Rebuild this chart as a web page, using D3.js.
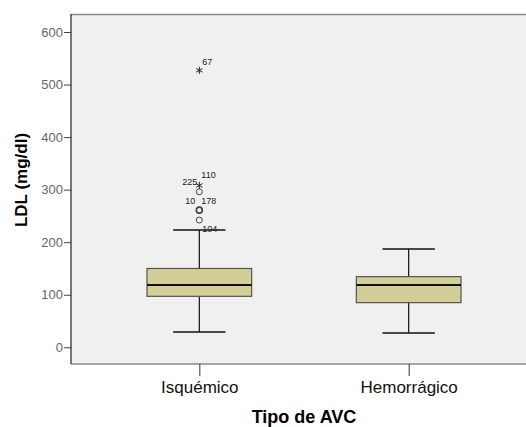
<!doctype html>
<html lang="en">
<head>
<meta charset="utf-8">
<title>LDL por tipo de AVC</title>
<style>
  body { margin: 0; background: #fff; }
  svg text { font-family: "Liberation Sans", Arial, sans-serif; }
</style>
<script src="https://d3js.org/d3.v7.min.js"></script>
</head>
<body>
<div id="chart"></div>
<script>
// categories and box statistics (mg/dl)
var categories = ["Isquémico", "Hemorrágico"];
var whiskerLow = [29, 27];
var q1 = [97, 85];
var median = [118.5, 118.5];
var q3 = [150, 134.5];
var whiskerHigh = [223, 187];

// outliers (Isquémico only): value, type, label
var outlierValues = [527, 308, 296, 261, 261, 242];
var outlierTypes = ["star", "star", "circle", "circle", "circle", "circle"];
var outlierLabels = [["67"], ["225", "110"], [], ["10", "178"], [], ["104"]];

var yTicks = [0, 100, 200, 300, 400, 500, 600];

var W = 526, H = 427;
var plotLeft = 71, plotTop = 14, plotBottom = 364, plotRight = 526;

var svg = d3.select("#chart").append("svg")
  .attr("width", W)
  .attr("height", H);

var y = d3.scaleLinear()
  .domain([0, 600])
  .range([347.3, 32]);

var x = d3.scalePoint()
  .domain(categories)
  .range([plotLeft, 537])
  .padding(0.613);

var step = x.step();
var boxW = step * 0.5;
var capW = boxW * 0.5;

// plot background
svg.append("rect")
  .attr("x", plotLeft)
  .attr("y", plotTop)
  .attr("width", plotRight - plotLeft)
  .attr("height", plotBottom - plotTop)
  .attr("fill", "#f0f0f0");

// top and bottom frame
svg.append("line")
  .attr("x1", plotLeft).attr("x2", plotRight)
  .attr("y1", plotTop + 0.5).attr("y2", plotTop + 0.5)
  .attr("stroke", "#8a8a8a").attr("stroke-width", 1.5);
svg.append("line")
  .attr("x1", plotLeft).attr("x2", plotRight)
  .attr("y1", plotBottom).attr("y2", plotBottom)
  .attr("stroke", "#8a8a8a").attr("stroke-width", 1.5);

// y axis
var yAxis = svg.append("g")
  .attr("transform", "translate(" + plotLeft + ",0)")
  .call(d3.axisLeft(y).tickValues(yTicks).tickSize(7).tickPadding(1));
yAxis.select(".domain").remove();
yAxis.append("line")
  .attr("x1", 0).attr("x2", 0)
  .attr("y1", plotTop).attr("y2", plotBottom)
  .attr("stroke", "#222").attr("stroke-width", 1.2);
yAxis.selectAll(".tick line").attr("stroke", "#444");
yAxis.selectAll(".tick text")
  .attr("fill", "#666")
  .style("font-size", "13px")
  .style("font-family", "'Liberation Sans', Arial, sans-serif");

// x axis ticks
var xAxis = svg.append("g")
  .attr("transform", "translate(0," + plotBottom + ")")
  .call(d3.axisBottom(x).tickSize(12).tickPadding(5));
xAxis.select(".domain").remove();
xAxis.selectAll(".tick line").attr("stroke", "#333");
xAxis.selectAll(".tick text")
  .attr("fill", "#111")
  .style("font-size", "17px")
  .style("font-family", "'Liberation Sans', Arial, sans-serif");

// axis titles
svg.append("text")
  .attr("x", 304)
  .attr("y", 423)
  .attr("text-anchor", "middle")
  .style("font-size", "18px")
  .style("font-weight", "bold")
  .text("Tipo de AVC");

svg.append("text")
  .attr("transform", "translate(27,180) rotate(-90)")
  .attr("text-anchor", "middle")
  .style("font-size", "17px")
  .style("font-weight", "bold")
  .text("LDL (mg/dl)");

// boxes
var boxes = svg.selectAll(".box")
  .data(categories)
  .enter()
  .append("g")
  .attr("class", "box");

boxes.append("line")
  .attr("x1", function(d) { return x(d); })
  .attr("x2", function(d) { return x(d); })
  .attr("y1", function(d, i) { return y(whiskerLow[i]); })
  .attr("y2", function(d, i) { return y(whiskerHigh[i]); })
  .attr("stroke", "#111").attr("stroke-width", 1.2);

boxes.append("line")
  .attr("x1", function(d) { return x(d) - capW / 2; })
  .attr("x2", function(d) { return x(d) + capW / 2; })
  .attr("y1", function(d, i) { return y(whiskerLow[i]); })
  .attr("y2", function(d, i) { return y(whiskerLow[i]); })
  .attr("stroke", "#111").attr("stroke-width", 1.5);

boxes.append("line")
  .attr("x1", function(d) { return x(d) - capW / 2; })
  .attr("x2", function(d) { return x(d) + capW / 2; })
  .attr("y1", function(d, i) { return y(whiskerHigh[i]); })
  .attr("y2", function(d, i) { return y(whiskerHigh[i]); })
  .attr("stroke", "#111").attr("stroke-width", 1.5);

boxes.append("rect")
  .attr("x", function(d) { return x(d) - boxW / 2; })
  .attr("y", function(d, i) { return y(q3[i]); })
  .attr("width", boxW)
  .attr("height", function(d, i) { return y(q1[i]) - y(q3[i]); })
  .attr("fill", "#d3ce98")
  .attr("stroke", "#555")
  .attr("stroke-width", 1.2);

boxes.append("line")
  .attr("x1", function(d) { return x(d) - boxW / 2; })
  .attr("x2", function(d) { return x(d) + boxW / 2; })
  .attr("y1", function(d, i) { return y(median[i]); })
  .attr("y2", function(d, i) { return y(median[i]); })
  .attr("stroke", "#111").attr("stroke-width", 2);

// outliers
var ox = x(categories[0]);
var star = d3.symbol().type(d3.symbolAsterisk).size(36);

outlierValues.forEach(function(v, i) {
  var cy = y(v);
  if (outlierTypes[i] == "star") {
    svg.append("path")
      .attr("d", star())
      .attr("transform", "translate(" + ox + "," + cy + ")")
      .attr("stroke", "#222").attr("stroke-width", 1).attr("fill", "none");
  } else {
    svg.append("circle")
      .attr("cx", ox).attr("cy", cy).attr("r", 3)
      .attr("fill", "none")
      .attr("stroke", "#444").attr("stroke-width", i == 3 ? 1.6 : 1);
  }
});

// outlier labels
function addLabel(txt, v, dx, dy, anchor) {
  svg.append("text")
    .attr("x", ox + dx)
    .attr("y", y(v) + dy)
    .attr("text-anchor", anchor)
    .attr("fill", "#222")
    .style("font-size", "9px")
    .text(txt);
}
addLabel(outlierLabels[0][0], outlierValues[0], 3, -5, "start");
addLabel(outlierLabels[1][0], outlierValues[1], -2, -0.5, "end");
addLabel(outlierLabels[1][1], outlierValues[1], 2, -7, "start");
addLabel(outlierLabels[3][0], outlierValues[3], -4, -6, "end");
addLabel(outlierLabels[3][1], outlierValues[3], 2, -6, "start");
addLabel(outlierLabels[5][0], outlierValues[5], 3, 12, "start");
</script>
</body>
</html>
